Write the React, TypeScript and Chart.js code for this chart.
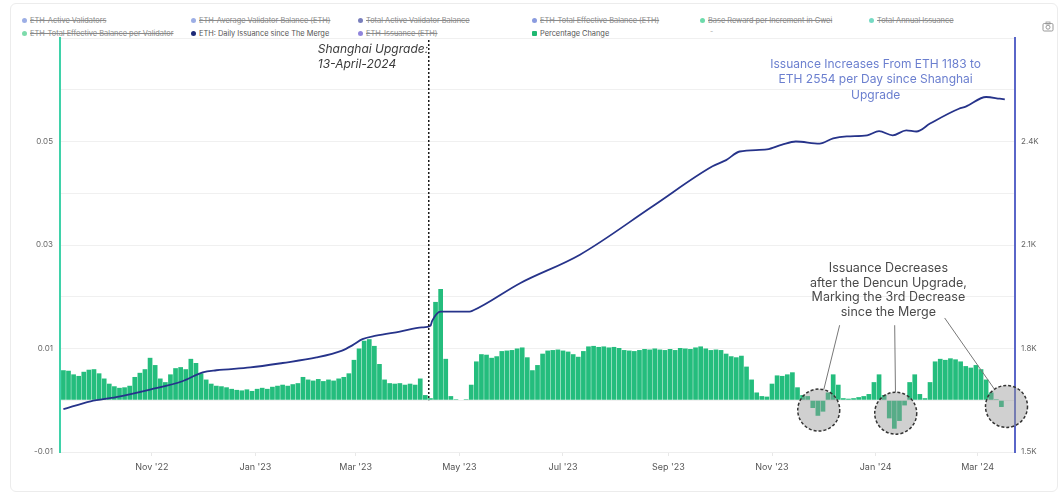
import React, { useEffect, useRef } from 'react';
import { Chart, registerables } from 'chart.js';

Chart.register(...registerables);

// ---- time helpers: x values are days since the Merge (2022-09-15) ----
const MERGE_UTC = Date.UTC(2022, 8, 15);
function dayIndex(iso: string): number {
  const [y, m, d] = iso.split('-').map(Number);
  return Math.round((Date.UTC(y, m - 1, d) - MERGE_UTC) / 86400000);
}

// ---- data ----
const barStartDay = -5;
const barStepDays = 3;
const percentageChange = [
  0.0058, 0.0057, 0.0050, 0.0047, 0.0055, 0.0059, 0.0060, 0.0052, 0.0042, 0.0032,
  0.0027, 0.0024, 0.0025, 0.0028, 0.0045, 0.0053, 0.0060, 0.0082, 0.0068, 0.0042,
  0.0035, 0.0050, 0.0062, 0.0064, 0.0060, 0.0080, 0.0072, 0.0052, 0.0040, 0.0032,
  0.0028, 0.0027, 0.0025, 0.0022, 0.0020, 0.0019, 0.0021, 0.0018, 0.0022, 0.0024,
  0.0022, 0.0026, 0.0028, 0.0030, 0.0028, 0.0031, 0.0033, 0.0045, 0.0040, 0.0038,
  0.0041, 0.0037, 0.0040, 0.0038, 0.0042, 0.0045, 0.0052, 0.0078, 0.0100, 0.0115,
  0.0118, 0.0105, 0.0070, 0.0040, 0.0033, 0.0032, 0.0033, 0.0030, 0.0032, 0.0030,
  0.0042, 0.0010, 0.0004, 0.0190, 0.0215, 0.0080, 0.0008, 0.0002, 0.0001, 0.0002,
  0.0030, 0.0075, 0.0089, 0.0088, 0.0082, 0.0085, 0.0095, 0.0096, 0.0097, 0.0100,
  0.0102, 0.0083, 0.0058, 0.0068, 0.0090, 0.0096, 0.0097, 0.0098, 0.0096, 0.0094,
  0.0089, 0.0084, 0.0095, 0.0104, 0.0105, 0.0103, 0.0104, 0.0102, 0.0103, 0.0101,
  0.0097, 0.0096, 0.0095, 0.0097, 0.0099, 0.0098, 0.0100, 0.0098, 0.0097, 0.0099,
  0.0097, 0.0101, 0.0100, 0.0099, 0.0102, 0.0104, 0.0100, 0.0097, 0.0098, 0.0097,
  0.0090, 0.0085, 0.0083, 0.0086, 0.0065, 0.0040, 0.0015, 0.0008, 0.0007, 0.0032,
  0.0048, 0.0047, 0.0050, 0.0054, 0.0025, 0.0010, 0.0008, -0.0015, -0.0030, -0.0022,
  0.0015, 0.0050, 0.0030, 0.0004, 0.0003, 0.0004, 0.0006, 0.0008, 0.0012, 0.0035,
  0.0050, 0.0010, -0.0035, -0.0055, -0.0040, -0.0010, 0.0035, 0.0050, 0.0012, 0.0004,
  0.0035, 0.0075, 0.0080, 0.0078, 0.0081, 0.0079, 0.0075, 0.0066, 0.0063, 0.0068,
  0.0060, 0.0040, 0.0015, 0.0002, -0.0013,
];

const issuanceDays = [
  -5, 11, 26, 46, 65, 77, 85, 105, 124, 144, 159, 165, 171, 179, 193, 206, 211, 212,
  217, 234, 236, 264, 299, 342, 377, 385, 393, 409, 418, 426, 440, 448, 456, 468, 475,
  483, 491, 497, 505, 522, 526, 538, 546, 549,
];
const dailyIssuance = [
  1624, 1647, 1659, 1681, 1705, 1731, 1737, 1745, 1758, 1774, 1794, 1809, 1827, 1837,
  1849, 1861, 1866, 1880, 1907, 1907, 1910, 1990, 2072, 2213, 2328, 2346, 2371, 2377,
  2391, 2400, 2394, 2409, 2415, 2418, 2430, 2418, 2432, 2429, 2452, 2495, 2501, 2529,
  2524, 2522,
];

const xTickDates = [
  '2022-11-01', '2023-01-01', '2023-03-01', '2023-05-01', '2023-07-01',
  '2023-09-01', '2023-11-01', '2024-01-01', '2024-03-01',
];
const xTickLabels = [
  "Nov '22", "Jan '23", "Mar '23", "May '23", "Jul '23",
  "Sep '23", "Nov '23", "Jan '24", "Mar '24",
];

const legendLabels = [
  'ETH-Active Validators',
  'ETH-Average Validator Balance (ETH)',
  'Total Active Validator Balance',
  'ETH-Total Effective Balance (ETH)',
  'Base Reward per Increment in Gwei',
  'Total Annual Issuance',
  'ETH-Total Effective Balance per Validator',
  'ETH: Daily Issuance since The Merge',
  'ETH-Issuance (ETH)',
  'Percentage Change',
];
const legendHidden = [true, true, true, true, true, true, true, false, true, false];

const shanghaiDate = '2023-04-13';
const shanghaiLabel = ['Shanghai Upgrade:', '13-April-2024'];
const increaseLabel = ['Issuance Increases From ETH 1183 to', 'ETH 2554 per Day since Shanghai', 'Upgrade'];
const decreaseLabel = ['Issuance Decreases', 'after the Dencun Upgrade,', 'Marking the 3rd Decrease', 'since the Merge'];

// ---- styles ----
const legendColors = ['#7b93dc', '#7b93dc', '#4c54a6', '#6379d4', '#3ccf8f', '#48cdb0', '#52cf8f', '#1d2a78', '#6b5cd0', '#1fb871'];
const BAR_COLOR = '#24bd7d';
const LINE_COLOR = '#26338a';
const FONT = 'Inter, "Liberation Sans", sans-serif';

const annotationPlugin = {
  id: 'customAnnotations',
  afterDatasetsDraw(chart: any) {
    const { ctx, chartArea, scales } = chart;
    const xs = scales.x;
    const ys = scales.y;
    const px = (d: number) => xs.getPixelForValue(d);
    const py = (v: number) => ys.getPixelForValue(v);
    ctx.save();

    // Shanghai dotted line + label
    const sx = px(dayIndex(shanghaiDate));
    ctx.beginPath();
    ctx.setLineDash([2, 2]);
    ctx.lineWidth = 1.5;
    ctx.strokeStyle = '#1a1a1a';
    ctx.moveTo(sx, chartArea.top + 2);
    ctx.lineTo(sx, py(0));
    ctx.stroke();
    ctx.setLineDash([]);
    ctx.font = `italic 12px ${FONT}`;
    ctx.fillStyle = '#3a3a3a';
    ctx.textAlign = 'left';
    ctx.textBaseline = 'middle';
    shanghaiLabel.forEach((t, i) => ctx.fillText(t, sx - 111, chartArea.top + 11 + i * 15));

    // Increase note
    ctx.font = `12px ${FONT}`;
    ctx.fillStyle = '#6b7fcf';
    ctx.textAlign = 'center';
    increaseLabel.forEach((t, i) => ctx.fillText(t, px(473), chartArea.top + 26 + i * 15.5));

    // Decrease note
    ctx.font = `12.5px ${FONT}`;
    ctx.fillStyle = '#4a4a4a';
    const dxc = px(480.5);
    const dy0 = py(0.0255);
    decreaseLabel.forEach((t, i) => ctx.fillText(t, dxc, dy0 + i * 14.7));

    // highlight circles
    const circles = [
      [px(439.5), py(-0.0019)],
      [px(484.8), py(-0.0025)],
      [px(550), py(-0.0012)],
    ];
    const starts = [
      [px(451.8), py(0.0145)],
      [px(484.2), py(0.0145)],
      [px(513.6), py(0.0159)],
    ];
    const R = 21;
    circles.forEach(([cx, cy]) => {
      ctx.beginPath();
      ctx.arc(cx, cy, R, 0, Math.PI * 2);
      ctx.fillStyle = 'rgba(150,150,150,0.45)';
      ctx.fill();
      ctx.setLineDash([3, 2]);
      ctx.lineWidth = 1.5;
      ctx.strokeStyle = '#333';
      ctx.stroke();
      ctx.setLineDash([]);
    });
    starts.forEach(([x0, y0], i) => {
      const [cx, cy] = circles[i];
      const dx = x0 - cx;
      const dy = y0 - cy;
      const len = Math.hypot(dx, dy);
      const ex = cx + (dx / len) * R;
      const ey = cy + (dy / len) * R;
      ctx.beginPath();
      ctx.lineWidth = 1;
      ctx.strokeStyle = '#777';
      ctx.moveTo(x0, y0);
      ctx.lineTo(ex, ey);
      ctx.stroke();
    });

    ctx.restore();
  },
};

function Legend() {
  const cols = [25, 194, 361, 535, 703, 872];
  const rows = [20, 33];
  return (
    <>
      {legendLabels.map((label, i) => {
        const col = i % 6;
        const row = Math.floor(i / 6);
        const hidden = legendHidden[i];
        const square = label === 'Percentage Change';
        return (
          <div
            key={label}
            style={{
              position: 'absolute',
              left: cols[col] - 3,
              top: rows[row] - 6,
              height: 12,
              display: 'flex',
              alignItems: 'center',
              whiteSpace: 'nowrap',
              fontFamily: FONT,
              fontSize: 7.4,
              color: hidden ? '#8a8a8a' : '#555',
              textDecoration: hidden ? 'line-through' : 'none',
            }}
          >
            <span
              style={{
                display: 'inline-block',
                width: 5,
                height: 5,
                borderRadius: square ? 1 : 3,
                background: legendColors[i],
                opacity: hidden ? 0.75 : 1,
                marginRight: 3,
              }}
            />
            {label}
          </div>
        );
      })}
      <div
        style={{
          position: 'absolute',
          left: 710,
          top: 27,
          fontFamily: FONT,
          fontSize: 7,
          color: '#aaa',
        }}
      >
        -
      </div>
    </>
  );
}

export default function App() {
  const canvasRef = useRef<HTMLCanvasElement | null>(null);

  useEffect(() => {
    const canvas = canvasRef.current;
    if (!canvas) return;
    const xTickDays = xTickDates.map(dayIndex);
    const chart = new Chart(canvas, {
      type: 'bar',
      data: {
        datasets: [
          {
            type: 'line',
            label: 'ETH: Daily Issuance since The Merge',
            data: issuanceDays.map((d, i) => ({ x: d, y: dailyIssuance[i] })),
            yAxisID: 'y1',
            xAxisID: 'x',
            borderColor: LINE_COLOR,
            borderWidth: 1.8,
            pointRadius: 0,
            cubicInterpolationMode: 'monotone',
            order: 0,
          } as any,
          {
            type: 'bar',
            label: 'Percentage Change',
            data: percentageChange.map((v, i) => ({ x: barStartDay + i * barStepDays, y: v })),
            yAxisID: 'y',
            xAxisID: 'x',
            backgroundColor: BAR_COLOR,
            borderWidth: 0,
            barPercentage: 0.92,
            categoryPercentage: 1,
            order: 1,
          } as any,
        ],
      },
      options: {
        animation: false,
        responsive: false,
        devicePixelRatio: 1,
        layout: { padding: { top: 38, left: 0, right: 0, bottom: 0 } },
        plugins: {
          legend: { display: false },
          tooltip: { enabled: false },
        },
        scales: {
          x: {
            type: 'linear',
            min: -7,
            max: 555,
            offset: false,
            afterBuildTicks: (scale: any) => {
              scale.ticks = xTickDays.map((v) => ({ value: v }));
            },
            afterFit: (scale: any) => {
              scale.height = 42;
              scale.paddingLeft = 0;
              scale.paddingRight = 0;
            },
            ticks: {
              autoSkip: false,
              maxRotation: 0,
              padding: 6,
              color: '#555',
              font: { family: FONT, size: 9 },
              callback: (_v: any, index: number) => xTickLabels[index],
            },
            grid: { display: true, drawOnChartArea: false, offset: false, color: '#e8e8e8', tickLength: 4 },
            border: { display: true, color: '#eeeeee' },
          },
          y: {
            type: 'linear',
            position: 'left',
            min: -0.01,
            max: 0.07,
            afterFit: (scale: any) => {
              scale.width = 60;
              scale.paddingTop = 0;
              scale.paddingBottom = 0;
            },
            ticks: {
              stepSize: 0.01,
              padding: 7,
              color: '#666',
              font: { family: FONT, size: 8 },
              callback: (v: any) => {
                const r = Math.round(Number(v) * 100);
                if (Math.abs(r) % 2 === 1 && r !== 7) return (r / 100).toFixed(2);
                return '';
              },
            },
            grid: { color: '#f0f0f0', drawTicks: false },
            border: { display: true, color: '#3fd2a9', width: 2 },
          },
          y1: {
            type: 'linear',
            position: 'right',
            min: 1500,
            max: 2700,
            afterFit: (scale: any) => {
              scale.width = 45;
              scale.paddingTop = 0;
              scale.paddingBottom = 0;
            },
            ticks: {
              stepSize: 150,
              padding: 6,
              color: '#666',
              font: { family: FONT, size: 8 },
              callback: (v: any) => {
                const n = Math.round(Number(v));
                if ((n - 1500) % 300 === 0 && n < 2700) return (n / 1000).toFixed(1) + 'K';
                return '';
              },
            },
            grid: { display: false, drawTicks: false },
            border: { display: true, color: '#5a66c8', width: 2 },
          },
        },
      } as any,
      plugins: [annotationPlugin],
    });
    return () => chart.destroy();
  }, []);

  return (
    <div
      style={{
        position: 'absolute',
        left: 0,
        top: 0,
        width: 1060,
        height: 494,
        background: '#fff',
        overflow: 'hidden',
      }}
    >
      <div
        style={{
          position: 'absolute',
          left: 10,
          top: 3,
          width: 1046,
          height: 487,
          border: '1px solid #ececec',
          borderRadius: 6,
        }}
      />
      <Legend />
      <svg
        style={{ position: 'absolute', left: 1042, top: 21 }}
        width="12"
        height="11"
        viewBox="0 0 12 11"
      >
        <rect x="1" y="2.5" width="10" height="7.5" rx="1.2" fill="none" stroke="#999" strokeWidth="1" />
        <rect x="4" y="1" width="4" height="2" fill="none" stroke="#999" strokeWidth="0.8" />
        <circle cx="6" cy="6.2" r="2" fill="none" stroke="#999" strokeWidth="1" />
      </svg>
      <canvas
        ref={canvasRef}
        width={1060}
        height={494}
        style={{ position: 'absolute', left: 0, top: 0, width: 1060, height: 494 }}
      />
    </div>
  );
}
